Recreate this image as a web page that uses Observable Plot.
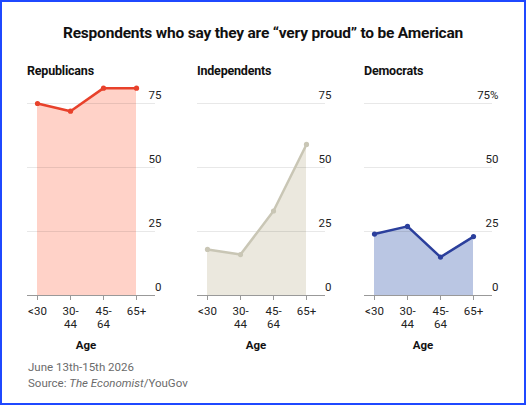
<!DOCTYPE html>
<html>
<head>
<meta charset="utf-8">
<script src="https://cdn.jsdelivr.net/npm/d3@7"></script>
<script src="https://cdn.jsdelivr.net/npm/@observablehq/plot@0.6"></script>
<style>
  html, body { margin: 0; padding: 0; background: #fff; }
  #root { position: relative; width: 526px; height: 405px; box-sizing: border-box; border: 2px solid #1f48ff; overflow: hidden; font-family: Roboto, sans-serif; }
  .abs { position: absolute; white-space: nowrap; }
  .title { left: 0; width: 522px; top: 22px; text-align: center; font-weight: 700; font-size: 15.5px; line-height: 18px; color: #111; letter-spacing: -0.2px; }
  .ptitle { font-weight: 700; font-size: 12.5px; line-height: 14px; color: #111; letter-spacing: -0.2px; }
  .age { font-weight: 700; font-size: 11.5px; line-height: 14px; color: #111; transform: translateX(-50%); }
  .foot { font-size: 11.5px; line-height: 14px; color: #6b6b6b; }
</style>
</head>
<body>
<div id="root"></div>
<script>
const ages = ["<30", "30-44", "45-64", "65+"];
const parties = ["Republicans", "Independents", "Democrats"];
const republicans = [75, 72, 81, 81];
const independents = [18, 16, 33, 59];
const democrats = [24, 27, 15, 23];
const yTicks = [0, 25, 50, 75];
const lineColors = ["#e8412b", "#c9c6b5", "#2b3f9c"];
const fillColors = ["#ffd2c8", "#ebe8de", "#bac6e3"];
const seriesValues = [republicans, independents, democrats];

const root = document.getElementById("root");
const B = 2; // border offset
function addDiv(cls, text, left, top, html) {
  const d = document.createElement("div");
  d.className = "abs " + cls;
  if (html) d.innerHTML = text; else d.textContent = text;
  if (left != null) d.style.left = (left - B) + "px";
  d.style.top = (top - B) + "px";
  root.appendChild(d);
  return d;
}

addDiv("title", "Respondents who say they are \u201cvery proud\u201d to be American", null, 24);

const frameLefts = [27, 197, 364];
function panel(values, line, fill, pct) {
  const data = ages.map((a, i) => ({age: a, v: values[i]}));
  return Plot.plot({
    width: 138, height: 256,
    marginLeft: 5, marginRight: 5, marginTop: 23, marginBottom: 41,
    style: {fontFamily: "Roboto, sans-serif", fontSize: "11.5px", color: "#222", background: "transparent", overflow: "visible"},
    x: {type: "point", domain: ages, range: [14, 114], padding: 0, axis: null},
    y: {domain: [0, 75], axis: null},
    marks: [
      Plot.areaY(data, {x: "age", y: "v", fill: fill}),
      Plot.ruleY(yTicks.slice(1), {stroke: "#000", strokeOpacity: 0.09}),
      Plot.ruleY([0], {stroke: "#999"}),
      Plot.axisX({tickSize: 5, tickPadding: 5, stroke: "#999", fill: "#222", lineHeight: 1.15, label: null, tickFormat: d => d.replace("-", "-\n")}),
      Plot.axisY(yTicks, {anchor: "right", tickSize: 0, textAnchor: "end", dx: -3, dy: -8, fill: "#222", label: null,
        tickFormat: d => (pct && d === 75 ? "75%" : String(d))}),
      Plot.line(data, {x: "age", y: "v", stroke: line, strokeWidth: 2.5}),
      Plot.dot(data, {x: "age", y: "v", fill: line, r: 2.6})
    ]
  });
}

parties.forEach((p, i) => {
  const fl = frameLefts[i];
  addDiv("ptitle", p, fl, 64);
  const chart = panel(seriesValues[i], lineColors[i], fillColors[i], i === 2);
  chart.style.position = "absolute";
  chart.style.left = (fl - 5 - B) + "px";
  chart.style.top = (80 - B) + "px";
  root.appendChild(chart);
  addDiv("age", "Age", fl + 9 + 50, 338);
});

addDiv("foot", "June 13th-15th 2026", 28, 360);
addDiv("foot", "Source: <i>The Economist</i>/YouGov", 28, 376, true);
</script>
</body>
</html>
